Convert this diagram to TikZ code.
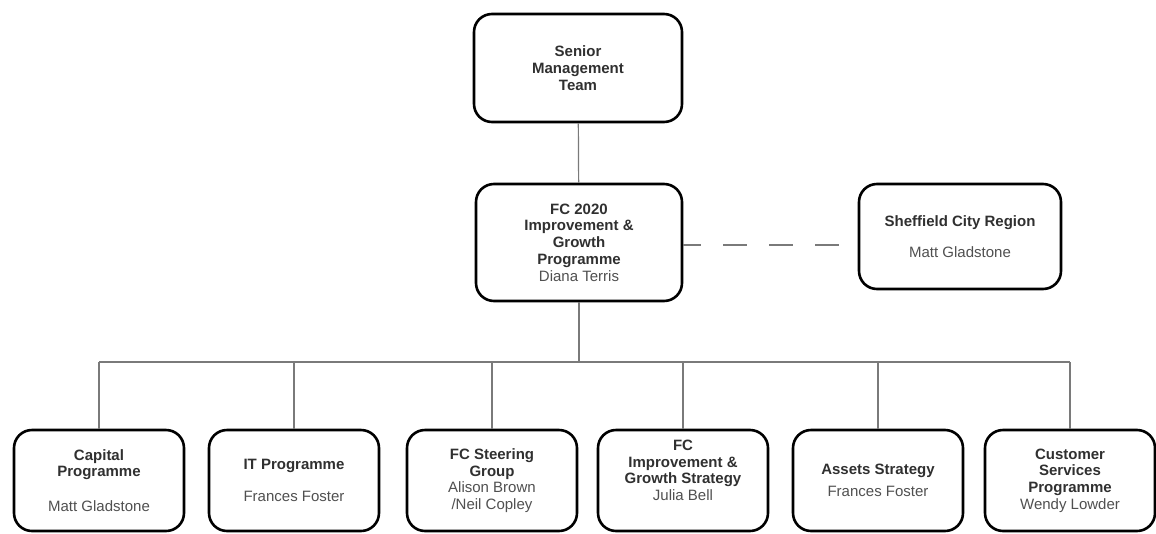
\documentclass[tikz,border=0pt]{standalone}
\usepackage{fontspec}
\setmainfont{Liberation Sans}
\usetikzlibrary{positioning}
\definecolor{inkgrey}{HTML}{303030}
\definecolor{namegrey}{HTML}{505050}
\definecolor{linegrey}{HTML}{7A7A7A}
\newcommand{\who}[1]{{\mdseries\color{namegrey}#1}}

\begin{document}
\begin{tikzpicture}[
					x=1pt, y=-1pt,
					box/.style={
						draw=black, line width=2.6pt, rounded corners=18pt,
						fill=white, align=center, inner sep=0pt, text=inkgrey,
						font=\bfseries\fontsize{15}{16.7}\selectfont
					},
					headbox/.style={box, minimum width=208pt, minimum height=108pt},
					progbox/.style={box, minimum width=206pt, minimum height=117pt},
					sidebox/.style={box, minimum width=202pt, minimum height=105pt},
					unitbox/.style={box, minimum width=170pt, minimum height=101pt},
					link/.style={draw=linegrey, line width=1.2pt}
					]
					
					\useasboundingbox[fill=white] (0,0) rectangle (1156,533);
					
					% --- TOP LEVEL ---
					\node[headbox] (smt) at (578,68) {Senior\\Management\\Team};
					\node[progbox] (prog) at (579,242.5) {FC 2020\\Improvement \&\\Growth\\Programme\\\who{Diana Terris}};
					\node[sidebox] (scr) at (960,236.5) {Sheffield City Region\\[14pt]\who{Matt Gladstone}};
					
					% --- UNITS ---
					\node[unitbox] (cap) at (99,480.5) {Capital\\Programme\\[18pt]\who{Matt Gladstone}};
					\node[unitbox] (itp) at (294,480.5) {IT Programme\\[15pt]\who{Frances Foster}};
					\node[unitbox] (steer) at (492,480.5) {FC Steering\\Group\\\who{Alison Brown}\\\who{/Neil Copley}};
					\node[unitbox] (strat) at (683,480.5) {FC\\Improvement \&\\Growth Strategy\\\who{Julia Bell}\\[4pt]};
					\node[unitbox] (assets) at (878,480.5) {Assets Strategy\\[5pt]\who{Frances Foster}};
					\node[unitbox] (cust) at (1070,480.5) {Customer\\Services\\Programme\\\who{Wendy Lowder}};
					
					% --- CONNECTORS ---
					\coordinate (bar) at (0,362);
					\draw[link] (smt) -- (prog);
					\draw[link, dash pattern=on 24pt off 22pt, dash phase=6pt] ([yshift=-2.5pt]prog.east) -- ([yshift=-2.5pt]prog.east -| scr.west);
					\draw[link] (prog.south) -- (prog.south |- bar);
					\draw[link] (cap.north |- bar) -- (cust.north |- bar);
					\foreach \u in {cap,itp,steer,strat,assets,cust}
						\draw[link] (\u.north |- bar) -- (\u.north);
					
				\end{tikzpicture}
\end{document}
